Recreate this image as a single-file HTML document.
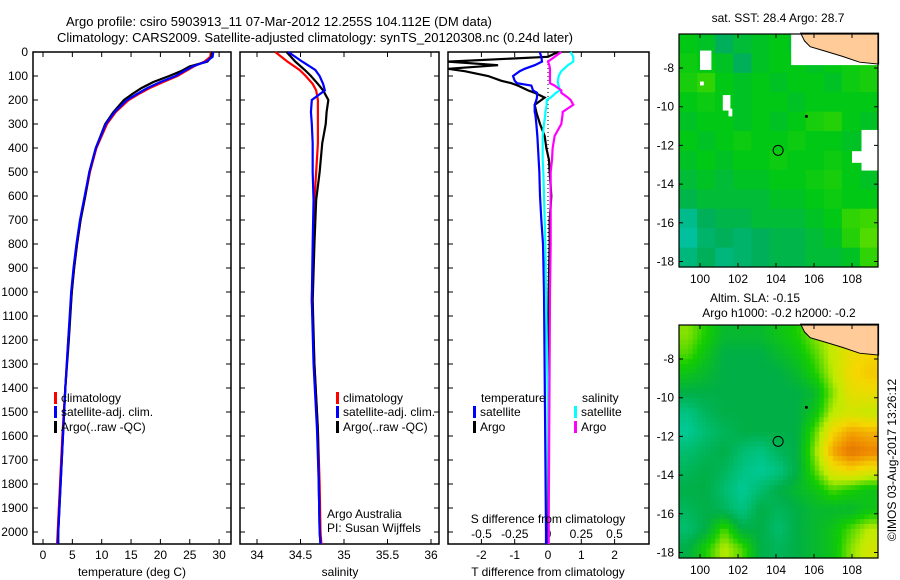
<!DOCTYPE html>
<html><head><meta charset="utf-8"><style>
body{margin:0;background:#fff;width:900px;height:580px;overflow:hidden}
svg{display:block;font-family:"Liberation Sans",sans-serif;font-size:12px}
</style></head><body>
<svg id="chart" width="900" height="580" viewBox="0 0 900 580" xmlns="http://www.w3.org/2000/svg">
<text x="66" y="26" font-size="13">Argo profile: csiro 5903913_11 07-Mar-2012 12.255S 104.112E (DM data)</text>
<text x="57" y="42" font-size="13">Climatology: CARS2009. Satellite-adjusted climatology: synTS_20120308.nc (0.24d later)</text>
<g id="g"></g>
</svg>
<script>
// ---- data ----
const depths=[0,20,40,60,80,100,125,150,175,200,250,300,400,500,600,700,800,900,1000,1200,1400,1600,1800,2000,2050];
const tempArgo=[28.8,28.7,28.0,25.0,23.5,21.5,18.8,16.8,15.2,13.8,12.0,10.6,9.0,7.9,7.2,6.4,5.8,5.3,4.9,4.4,3.8,3.4,3.0,2.6,2.6];
const tempClim=[28.6,28.5,27.5,25.7,24.3,22.9,20.5,18.2,16.3,14.6,12.4,10.9,9.1,8.0,7.2,6.4,5.8,5.3,4.9,4.3,3.8,3.3,2.9,2.5,2.4];
const tempSat=[29.0,28.9,27.8,25.5,24.0,22.6,20.0,17.8,16.0,14.3,12.2,10.7,9.0,7.9,7.1,6.3,5.7,5.2,4.8,4.3,3.8,3.4,3.0,2.6,2.5];
const salDepths=[0,40,75,100,133,160,200,250,300,380,500,617,800,1033,1300,1575,1800,2000,2050];
const salClim=[34.21,34.35,34.49,34.56,34.64,34.68,34.70,34.70,34.70,34.70,34.68,34.66,34.65,34.63,34.66,34.70,34.72,34.73,34.74];
const salSat=[34.36,34.52,34.67,34.72,34.76,34.78,34.63,34.62,34.63,34.64,34.64,34.65,34.64,34.63,34.65,34.69,34.71,34.72,34.73];
const salArgo=[34.34,34.44,34.55,34.62,34.70,34.76,34.82,34.80,34.79,34.75,34.72,34.68,34.66,34.64,34.66,34.70,34.71,34.72,34.73];
const dDepths=[0,20,40,55,70,80,100,120,130,140,160,170,190,200,220,250,260,300,350,400,450,500,600,700,800,1000,1500,2000,2050];
const dTArgo=[0.3,0,-3.2,-1.5,-3.2,-2.5,-1.8,-1.4,-1.1,-0.9,-0.6,-0.4,-0.1,-0.2,-0.4,-0.35,-0.33,-0.24,-0.1,-0.05,0.03,0.05,0.1,0.05,0.05,0.02,0.0,0.0,0.0];
const dTSat=[-0.25,-0.2,-0.18,-0.4,-0.7,-0.85,-1.05,-1.0,-0.93,-0.5,-0.45,-0.33,-0.33,-0.35,-0.4,-0.4,-0.38,-0.35,-0.32,-0.3,-0.28,-0.26,-0.24,-0.2,-0.15,-0.12,-0.09,-0.06,-0.06];
const dSSat=[0.17,0.19,0.19,0.15,0.12,0.1,0.08,0.075,0.075,0.08,0.09,0.06,0.02,-0.01,-0.01,-0.02,-0.02,-0.03,-0.04,-0.04,-0.04,-0.035,-0.03,-0.025,-0.02,-0.015,0,0.005,0.005];
const dSArgo=[0.1,0.05,0,0.01,0.015,0.015,0.015,0.015,0.015,0.05,0.1,0.1,0.15,0.17,0.19,0.11,0.11,0.1,0.05,0.035,0.03,0.02,0.02,0.02,0.02,0.015,0.01,0.005,0.005];
const depthTicks=[0,100,200,300,400,500,600,700,800,900,1000,1100,1200,1300,1400,1500,1600,1700,1800,1900,2000];
const tempTicks=[0,5,10,15,20,25,30];
const salTicks=[34,34.5,35,35.5,36];
const salTickLabels=["34","34.5","35","35.5","36"];
const dTTicks=[-2,-1,0,1,2];
const dSTicks=[-0.5,-0.25,0,0.25,0.5];
const dSTickLabels=["-0.5","-0.25","0","0.25","0.5"];
const lonTicks=[100,102,104,106,108];
const latTicks=[-8,-10,-12,-14,-16,-18];
const argoLon=104.112, argoLat=-12.255;
const sstGrid=[
[.5,.45,.3,.4,.45,.5,.45,.4,.5,.6,.55],
[.55,.5,.45,.3,.45,.5,.5,.45,.5,.55,.6],
[.6,.7,.5,.45,.5,.45,.5,.5,.45,.55,.6],
[.5,.55,.5,.45,.5,.5,.45,.5,.5,.5,.5],
[.45,.5,.5,.45,.5,.45,.5,.6,.65,.5,.45],
[.5,.45,.5,.55,.5,.5,.55,.5,.5,.45,.45],
[.45,.5,.45,.5,.5,.55,.5,.5,.55,.5,.45],
[.4,.45,.4,.45,.45,.5,.5,.55,.6,.5,.45],
[.35,.4,.4,.4,.4,.45,.45,.5,.55,.5,.5],
[.15,.3,.35,.35,.4,.4,.4,.45,.5,.7,.75],
[.1,.25,.3,.25,.3,.35,.35,.4,.45,.65,.8],
[.2,.3,.2,.25,.3,.35,.35,.4,.4,.45,.7]];
const slaGrid=[
[.55,.45,.35,.35,.35,.4,.45,.55,.62,.68,.7],
[.5,.4,.3,.3,.3,.35,.4,.5,.62,.72,.75],
[.4,.35,.3,.3,.3,.3,.35,.45,.6,.74,.78],
[.3,.3,.3,.3,.3,.3,.3,.35,.55,.7,.72],
[.15,.25,.3,.3,.3,.3,.3,.4,.6,.65,.62],
[.1,.2,.25,.3,.3,.3,.3,.5,.75,.85,.82],
[.2,.25,.3,.2,.15,.25,.3,.55,.85,.97,.92],
[.25,.3,.25,.15,.1,.15,.3,.5,.7,.75,.7],
[.3,.3,.2,.1,.2,.3,.35,.4,.5,.45,.4],
[.25,.3,.25,.15,.3,.25,.3,.35,.35,.35,.4],
[.2,.3,.5,.3,.3,.2,.3,.35,.4,.5,.6],
[.3,.45,.6,.5,.3,.25,.3,.35,.4,.55,.65]];

// ---- helpers ----
const NS="http://www.w3.org/2000/svg";
const G=document.getElementById('g');
function mk(tag,at,parent){const e=document.createElementNS(NS,tag);for(const k in at)e.setAttribute(k,at[k]);(parent||G).appendChild(e);return e;}
function txt(x,y,s,anchor,extra){const e=mk('text',Object.assign({x:x,y:y,'text-anchor':anchor||'start'},extra||{}));e.textContent=s;return e;}
const TOP=52,BOT=544;
const yD=d=>TOP+d*0.24;
const xT=t=>43+t*5.87;
const xS=s=>257+(s-34)*87;
const xdT=t=>548+t*33.3;
const xdS=s=>548+s*133;

function frame(x0,x1,name){
  const r=mk('rect',{x:x0,y:TOP,width:x1-x0,height:BOT-TOP,fill:'none',stroke:'#000','stroke-width':1.5});
  
  
  depthTicks.forEach(d=>{
    const t=mk('path',{d:`M${x0},${yD(d)}h5M${x1},${yD(d)}h-5`,stroke:'#000','stroke-width':1});
    
    
  });
}
function line(xs,ds,xf,col,name,x0,x1){
  const pts=xs.map((v,i)=>[Math.max(x0,Math.min(x1,xf(v))),yD(ds[i])].join(',')).join(' ');
  const p=mk('polyline',{points:pts,fill:'none',stroke:col,'stroke-width':2.2});
  
  
}
function xticks(vals,labels,xf,x0,x1,name){
  vals.forEach((v,i)=>{
    const x=xf(v);
    const t=mk('path',{d:`M${x},${TOP}v5M${x},${BOT}v-5`,stroke:'#000'});
    
    
    const l=txt(x,559,labels[i],'middle');
    
    
  });
}
function legend(x,y,col,label){
  const b=mk('rect',{x:x,y:y-10,width:3,height:12,fill:col});
  
  
  const l=txt(x+7,y,label);
  
  
}

// ---- panel 1 temperature ----
frame(33,231,'temperature-panel');
depthTicks.forEach(d=>{const l=txt(28,yD(d)+4,String(d),'end');
  
  });
xticks(tempTicks,tempTicks.map(String),xT,33,231,'temperature-tick-label');
line(tempClim,depths,xT,'#f00','temperature-climatology-line',33,231);
line(tempArgo,depths,xT,'#000','temperature-argo-line',33,231);
line(tempSat,depths,xT,'#00f','temperature-satellite-line',33,231);
legend(54,402,'#f00','climatology');legend(54,416,'#00f','satellite-adj. clim.');legend(54,431,'#000','Argo(..raw -QC)');
{const l=txt(132,576,'temperature (deg C)','middle');}

// ---- panel 2 salinity ----
frame(240,439,'salinity-panel');
xticks(salTicks,salTickLabels,xS,240,439,'salinity-tick-label');
line(salClim,salDepths,xS,'#f00','salinity-climatology-line',240,439);
line(salArgo,salDepths,xS,'#000','salinity-argo-line',240,439);
line(salSat,salDepths,xS,'#00f','salinity-satellite-line',240,439);
legend(336,402,'#f00','climatology');legend(336,416,'#00f','satellite-adj. clim.');legend(336,431,'#000','Argo(..raw -QC)');
{let l=txt(327,518,'Argo Australia');
 l=txt(327,532,'PI: Susan Wijffels');
 l=txt(340,576,'salinity','middle');}

// ---- panel 3 differences ----
frame(448,649,'difference-panel');
{const z=mk('line',{x1:xdT(0),x2:xdT(0),y1:TOP,y2:BOT,stroke:'#000','stroke-dasharray':'1,3'});}
xticks(dTTicks,dTTicks.map(String),xdT,448,649,'t-difference-tick-label');
dSTicks.forEach((v,i)=>{const l=txt(xdS(v),538,dSTickLabels[i],'middle');});
line(dTArgo,dDepths,xdT,'#000','t-diff-argo-line',448,649);
line(dTSat,dDepths,xdT,'#00f','t-diff-satellite-line',448,649);
line(dSSat,dDepths,xdS,'#0ff','s-diff-satellite-line',448,649);
line(dSArgo,dDepths,xdS,'#f0f','s-diff-argo-line',448,649);
{let l=txt(481,402,'temperature');
 l=txt(582,402,'salinity');}
legend(473,416,'#00f','satellite');legend(473,431,'#000','Argo');
legend(574,416,'#0ff','satellite');legend(574,431,'#f0f','Argo');
{let l=txt(548,523,'S difference from climatology','middle');
 l=txt(548,576,'T difference from climatology','middle');}

// ---- maps ----
function cmapSST(v){const st=[[0,[0,200,190]],[.3,[0,175,90]],[.5,[0,200,20]],[.75,[60,215,0]],[1,[170,235,0]]];return interp(st,v);}
function cmapSLA(v){const st=[[0,[0,215,190]],[.3,[0,175,70]],[.45,[20,205,0]],[.6,[190,235,0]],[.75,[245,215,0]],[.9,[240,140,0]],[1,[220,110,0]]];return interp(st,v);}
function interp(st,v){for(let i=1;i<st.length;i++){if(v<=st[i][0]){const a=st[i-1],b=st[i],f=(v-a[0])/(b[0]-a[0]);return 'rgb('+a[1].map((c,k)=>Math.round(c+(b[1][k]-c)*f)).join(',')+')';}}return 'rgb('+st[st.length-1][1].join(',')+')';}
function sample(grid,fr,fc){ // bilinear sampling for smooth rendering
  const nr=grid.length,nc=grid[0].length;
  const r=Math.max(0,Math.min(nr-1,fr)),c=Math.max(0,Math.min(nc-1,fc));
  const r0=Math.floor(r),c0=Math.floor(c),r1=Math.min(nr-1,r0+1),c1=Math.min(nc-1,c0+1),a=r-r0,b=c-c0;
  return grid[r0][c0]*(1-a)*(1-b)+grid[r0][c1]*(1-a)*b+grid[r1][c0]*a*(1-b)+grid[r1][c1]*a*b;
}
function drawMap(top,grid,cmap,name,gaps,sub){
  const L=679,R=878,H=233;
  const lonX=lo=>700+(lo-100)*19;
  const latY=la=>top+34+(-8-la)*19.35;
  const g=mk('g',{});
  const nr=grid.length,nc=grid[0].length,cw=(R-L)/nc/sub,ch=H/nr/sub;
  for(let r=0;r<nr*sub;r++)for(let c=0;c<nc*sub;c++){
    const v=sub===1?grid[r][c]:sample(grid,(r+0.5)/sub-0.5,(c+0.5)/sub-0.5);
    const cell=mk('rect',{x:L+c*cw,y:top+r*ch,width:cw+0.6,height:ch+0.6,fill:cmap(v)},g);
    
    
  }
  (gaps||[]).forEach(q=>{const w=mk('rect',{x:lonX(q[0]),y:latY(q[1]),width:q[2]*19,height:q[3]*19.35,fill:'#fff'},g);
    });
  const coast=[[105.3,-6.2],[105.5,-6.6],[105.8,-6.9],[106.5,-7.1],[107.5,-7.4],[108.4,-7.7],[109.4,-7.8],[109.4,-6.2]];
  const land=mk('polygon',{points:coast.map(p=>lonX(p[0])+','+latY(p[1])).join(' '),fill:'#fc9',stroke:'#000','stroke-width':1},g);
  
  const fr=mk('rect',{x:L,y:top,width:R-L,height:H,fill:'none',stroke:'#000','stroke-width':1.2},g);
  
  lonTicks.forEach(lo=>{const x=lonX(lo);mk('path',{d:`M${x},${top}v4M${x},${top+H}v-4`,stroke:'#000'},g);
    const l=txt(x,top+H+16,String(lo),'middle');});
  latTicks.forEach(la=>{const y=latY(la);mk('path',{d:`M${L},${y}h4M${R},${y}h-4`,stroke:'#000'},g);
    const l=txt(L-5,y+4,String(la),'end');});
  const c=mk('circle',{cx:lonX(argoLon),cy:latY(argoLat),r:5,fill:'none',stroke:'#000'},g);
  
  const s=mk('circle',{cx:lonX(105.6),cy:latY(-10.5),r:1.5,fill:'#000'},g);
  
}
drawMap(34,sstGrid,cmapSST,'sst-map',[[100,-7.1,0.6,1.0],[100,-8.7,0.2,0.2],[101.2,-9.4,0.4,0.8],[101.5,-10.1,0.2,0.4],[104.8,-6.25,4.6,1.6],[108.5,-11.2,0.9,2.1],[108,-12.3,0.5,0.6]],1);
drawMap(325,slaGrid,cmapSLA,'sla-map',[],4);
{let l=txt(778,22,'sat. SST: 28.4  Argo: 28.7','middle');
 l=txt(755,302,'Altim. SLA: -0.15','middle');
 l=txt(779,317,'Argo h1000: -0.2 h2000: -0.2','middle');
 l=txt(0,0,'©IMOS 03-Aug-2017 13:26:12','middle',{transform:'translate(896,460) rotate(-90)'});}
</script>
</body></html>
